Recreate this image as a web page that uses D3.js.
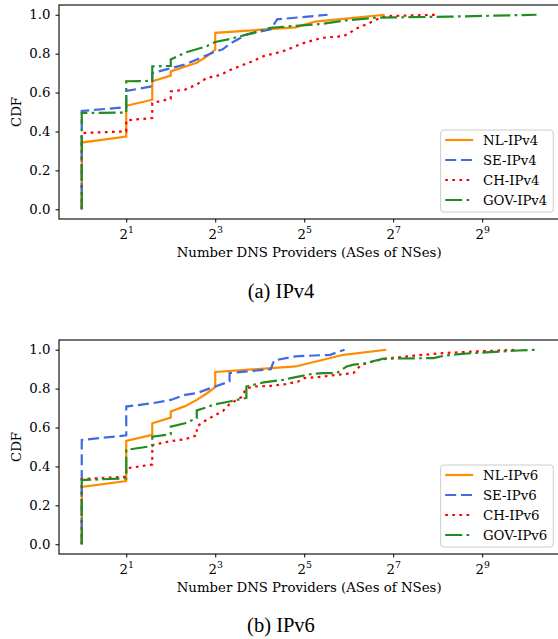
<!DOCTYPE html>
<html>
<head>
<meta charset="utf-8">
<script src="https://cdn.jsdelivr.net/npm/d3@7"></script>
<style>
  body { margin: 0; background: #fff; }
  svg { display: block; }
  text { font-family: "DejaVu Serif", serif; }
</style>
</head>
<body>
<svg id="chart" width="558" height="639"></svg>
<script>
// tick setup
var xTickVals = [2, 8, 32, 128, 512];
var xTickExp = ["1", "3", "5", "7", "9"];
var yTickVals = [0, 0.2, 0.4, 0.6, 0.8, 1.0];

// (a) IPv4 - CDF vertices
var nl4X = [1, 1, 2, 2, 3, 3, 4, 4, 6, 7, 8, 8, 28, 38, 112];
var nl4Y = [0, 0.343, 0.374, 0.532, 0.563, 0.658, 0.687, 0.709, 0.753, 0.785, 0.821, 0.907, 0.935, 0.965, 1.0];
var se4X = [1, 1, 2, 2, 3, 3, 5, 6, 8, 9, 10, 13, 19, 21, 46];
var se4Y = [0, 0.505, 0.525, 0.608, 0.632, 0.70, 0.744, 0.77, 0.81, 0.822, 0.85, 0.898, 0.925, 0.976, 1.0];
var ch4X = [1, 1, 2, 2, 3, 3, 4, 4, 5, 6, 7, 8, 9, 10, 14, 17, 23, 31, 42, 59, 65, 72, 87, 99, 115, 258];
var ch4Y = [0, 0.392, 0.40, 0.457, 0.469, 0.546, 0.568, 0.606, 0.615, 0.641, 0.675, 0.683, 0.696, 0.715, 0.758, 0.787, 0.812, 0.852, 0.881, 0.89, 0.907, 0.929, 0.955, 0.976, 0.993, 1.0];
var gov4X = [1, 1, 2, 2, 3, 3, 4, 4, 5, 7, 8, 10, 13, 19, 42, 63, 99, 300, 1194];
var gov4Y = [0, 0.495, 0.497, 0.658, 0.66, 0.735, 0.737, 0.77, 0.805, 0.838, 0.86, 0.875, 0.898, 0.933, 0.953, 0.972, 0.985, 0.99, 1.0];

// (b) IPv6
var nl6X = [1, 1, 2, 2, 3, 3, 4, 4, 5, 6, 7, 8, 8, 28, 59, 115];
var nl6Y = [0, 0.295, 0.325, 0.531, 0.562, 0.622, 0.651, 0.682, 0.71, 0.742, 0.775, 0.808, 0.886, 0.914, 0.974, 1.0];
var se6X = [1, 1, 2, 2, 3, 4, 5, 6, 8, 10, 10, 19, 20, 28, 48, 60];
var se6Y = [0, 0.536, 0.56, 0.708, 0.725, 0.742, 0.768, 0.777, 0.811, 0.837, 0.88, 0.90, 0.945, 0.966, 0.974, 1.0];
var ch6X = [1, 1, 2, 2, 3, 3, 4, 5, 6, 6, 7, 9, 10, 12, 13, 15, 19, 24, 29, 32, 39, 54, 69, 72, 78, 99, 122, 180, 280, 430, 890];
var ch6Y = [0, 0.335, 0.347, 0.39, 0.41, 0.51, 0.53, 0.54, 0.56, 0.605, 0.64, 0.685, 0.72, 0.756, 0.802, 0.811, 0.814, 0.823, 0.836, 0.854, 0.859, 0.871, 0.88, 0.897, 0.923, 0.945, 0.957, 0.97, 0.983, 0.99, 1.0];
var gov6X = [1, 1, 2, 2, 3, 3, 4, 4, 5, 6, 6, 7, 8, 10, 13, 13, 17, 23, 26, 35, 43, 53, 62, 69, 80, 110, 240, 286, 372, 577, 897, 1194];
var gov6Y = [0, 0.33, 0.339, 0.485, 0.505, 0.553, 0.565, 0.605, 0.622, 0.648, 0.688, 0.704, 0.72, 0.734, 0.752, 0.811, 0.832, 0.845, 0.854, 0.874, 0.88, 0.88, 0.914, 0.923, 0.928, 0.954, 0.957, 0.97, 0.979, 0.988, 0.996, 1.0];

var styles = [
  {color: "#ff8c00", dash: null},
  {color: "#4169e1", dash: "11,4.8"},
  {color: "#ff0000", dash: "2.7,4.4"},
  {color: "#228b22", dash: "17,4.3,2.7,4.3"}
];

function makeSeries(xs, ys) {
  return xs.map(function (x, i) { return [x, ys[i]]; });
}

var panels = [
  {top: 5, caption: "(a) IPv4", capY: 298,
   names: ["NL-IPv4", "SE-IPv4", "CH-IPv4", "GOV-IPv4"],
   series: [makeSeries(nl4X, nl4Y), makeSeries(se4X, se4Y), makeSeries(ch4X, ch4Y), makeSeries(gov4X, gov4Y)]},
  {top: 340, caption: "(b) IPv6", capY: 632,
   names: ["NL-IPv6", "SE-IPv6", "CH-IPv6", "GOV-IPv6"],
   series: [makeSeries(nl6X, nl6Y), makeSeries(se6X, se6Y), makeSeries(ch6X, ch6Y), makeSeries(gov6X, gov6Y)]}
];

var svg = d3.select("#chart");
var left = 59, plotW = 500.3, plotH = 214;

panels.forEach(function (p) {
  // matplotlib-like 5% margins in log2 space
  var allX = [].concat.apply([], p.series.map(function (s) { return s.map(function (d) { return d[0]; }); }));
  var lo = Math.log2(d3.min(allX)), hi = Math.log2(d3.max(allX));
  var pad = 0.05 * (hi - lo);
  var x = d3.scaleLog().base(2).domain([Math.pow(2, lo - pad), Math.pow(2, hi + pad)]).range([0, plotW]);
  var y = d3.scaleLinear().domain([-0.05, 1.05]).range([plotH, 0]);

  var g = svg.append("g").attr("transform", "translate(" + left + "," + p.top + ")");

  var line = d3.line()
    .x(function (d) { return x(d[0]); })
    .y(function (d) { return y(d[1]); });

  g.selectAll(".cdf").data(p.series).enter()
    .append("path")
      .attr("class", "cdf")
      .attr("d", line)
      .attr("fill", "none")
      .attr("stroke", function (d, i) { return styles[i].color; })
      .attr("stroke-width", 2.2)
      .attr("stroke-dasharray", function (d, i) { return styles[i].dash; });

  // axes
  var xAxis = g.append("g").attr("transform", "translate(0," + plotH + ")")
    .call(d3.axisBottom(x).tickValues(xTickVals).tickSize(3.5).tickPadding(3.5).tickFormat(""));
  xAxis.select(".domain").remove();
  xAxis.selectAll(".tick line").attr("stroke", "#000").attr("stroke-width", 1);
  xAxis.selectAll(".tick text").remove();
  xAxis.selectAll(".tick").append("text")
    .attr("y", 20).attr("fill", "#000").attr("text-anchor", "middle")
    .style("font-size", "13.3px")
    .each(function (d, i) {
      var t = d3.select(this);
      t.append("tspan").text("2");
      t.append("tspan").attr("dy", -6).style("font-size", "9.4px").text(xTickExp[i]);
    });

  var yAxis = g.append("g")
    .call(d3.axisLeft(y).tickValues(yTickVals).tickSize(3.5).tickPadding(5).tickFormat(d3.format(".1f")));
  yAxis.select(".domain").remove();
  yAxis.selectAll(".tick line").attr("stroke", "#000").attr("stroke-width", 1);
  yAxis.selectAll(".tick text").attr("fill", "#000").style("font-size", "13.3px")
    .style("font-family", "DejaVu Serif");

  g.append("rect")
    .attr("x", 0).attr("y", 0).attr("width", plotW).attr("height", plotH)
    .attr("fill", "none").attr("stroke", "#000").attr("stroke-width", 1.1);

  // x label sits under the axes centre
  g.append("text")
    .attr("x", plotW / 2)
    .attr("y", plotH + 38)
    .attr("text-anchor", "middle")
    .style("font-size", "13.3px")
    .text("Number DNS Providers (ASes of NSes)");

  g.append("text")
    .attr("transform", "translate(" + (21 - left) + "," + (plotH / 2) + ") rotate(-90)")
    .attr("text-anchor", "middle")
    .style("font-size", "13.3px")
    .text("CDF");

  // legend
  var lg = g.append("g").attr("transform", "translate(" + (440.7 - left) + "," + 125 + ")");
  lg.append("rect")
    .attr("width", 112.6).attr("height", 82).attr("rx", 3)
    .attr("fill", "#fff").attr("fill-opacity", 0.8)
    .attr("stroke", "#ccc").attr("stroke-width", 1);
  p.names.forEach(function (name, i) {
    var cy = 10 + i * 20;
    lg.append("line")
      .attr("x1", 4.5).attr("x2", 32.5).attr("y1", cy).attr("y2", cy)
      .attr("stroke", styles[i].color).attr("stroke-width", 2.2)
      .attr("stroke-dasharray", styles[i].dash);
    lg.append("text")
      .attr("x", 42.3).attr("y", cy).attr("dy", "0.35em")
      .style("font-size", "13.3px")
      .text(name);
  });

  svg.append("text")
    .attr("x", 281).attr("y", p.capY)
    .attr("text-anchor", "middle")
    .style("font-family", "Liberation Serif")
    .style("font-size", "20.5px")
    .text(p.caption);
});
</script>
</body>
</html>
